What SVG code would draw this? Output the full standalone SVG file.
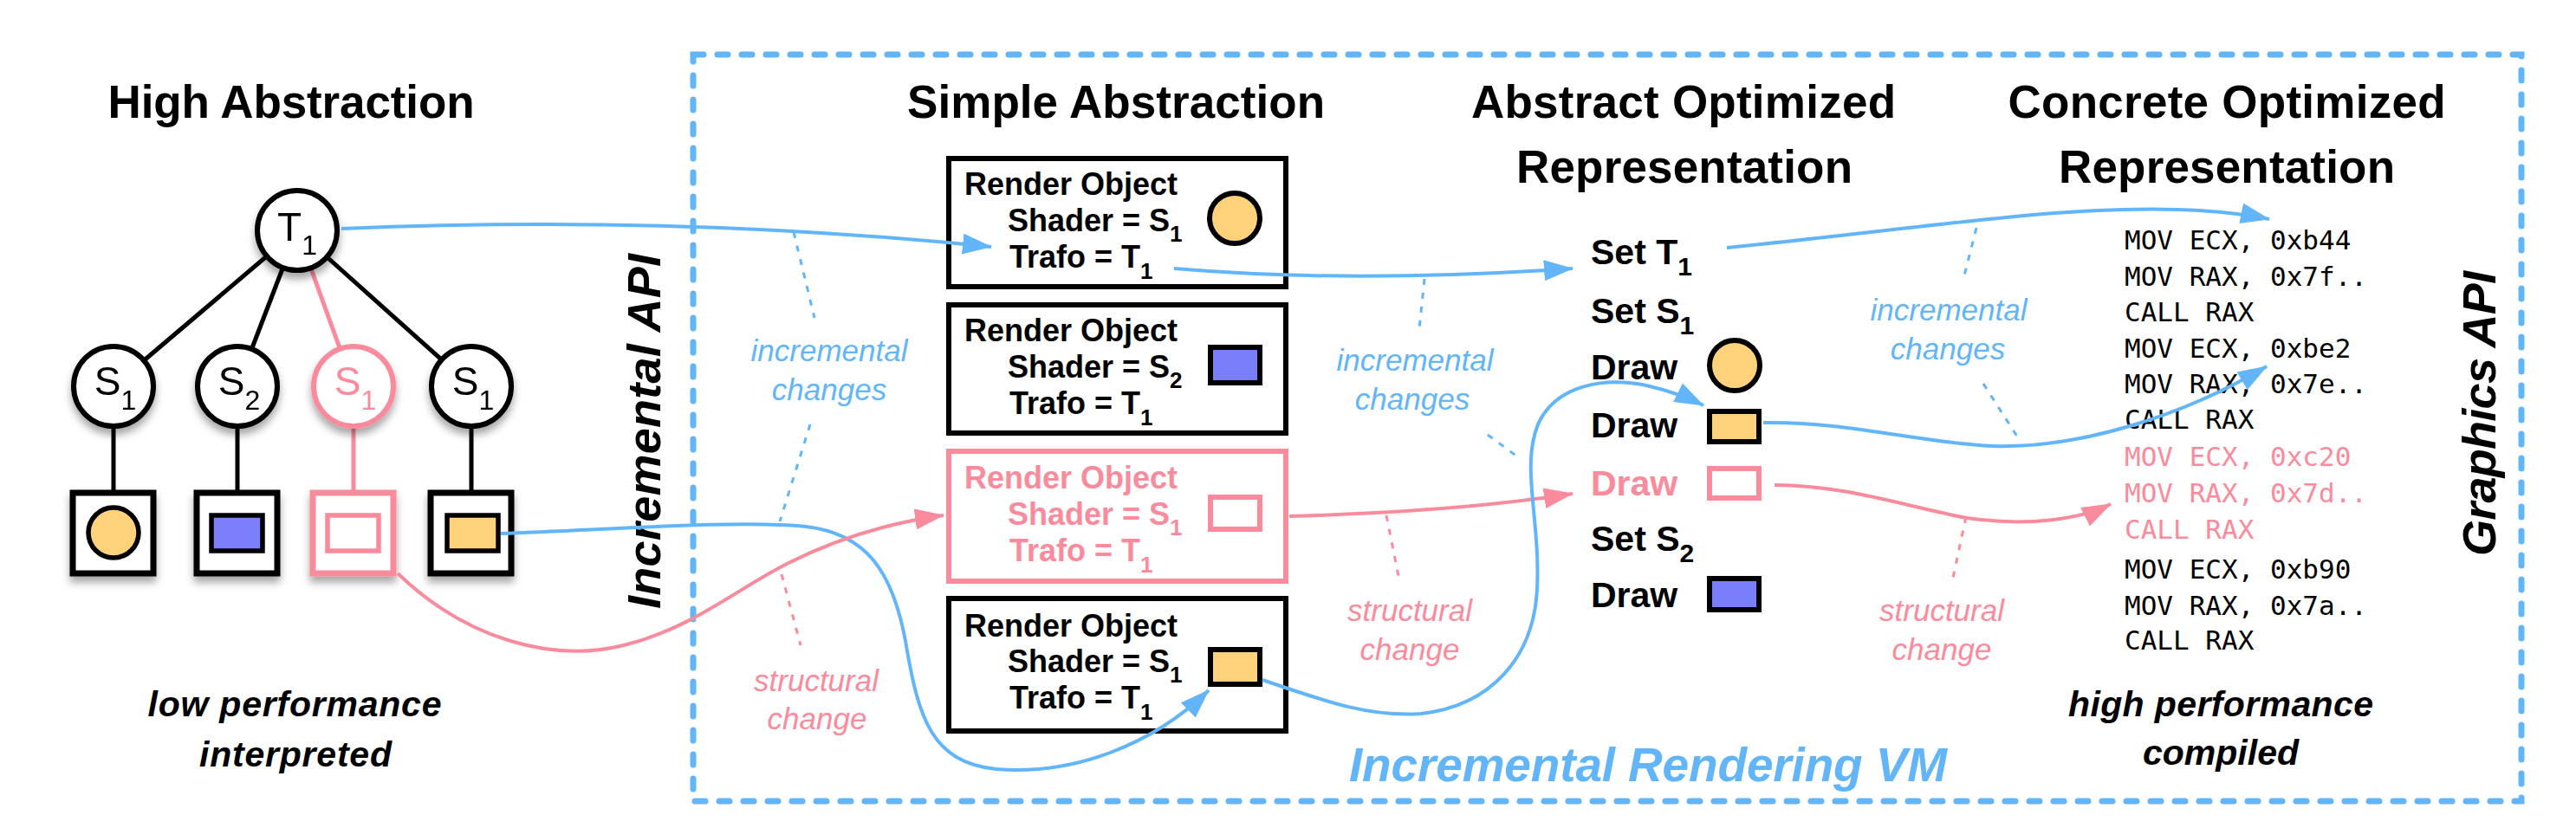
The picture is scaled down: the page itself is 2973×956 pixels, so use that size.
<svg xmlns="http://www.w3.org/2000/svg" width="2973" height="956" viewBox="0 0 2973 956">
<style>
.bg{fill:#ffffff}
.h{font-family:"Liberation Sans",Arial,sans-serif;font-weight:bold;font-size:53px;fill:#000;text-anchor:middle}
.node{fill:#fff;stroke:#000;stroke-width:6}
.pnode{fill:#fff;stroke:#FA8B9C;stroke-width:6}
.ntxt{font-family:"Liberation Sans",Arial,sans-serif;font-size:46px;fill:#000;text-anchor:middle}
.pn{fill:#FA8B9C}
.edge{stroke:#000;stroke-width:5;fill:none}
.pedge{stroke:#FA8B9C;stroke-width:5;fill:none}
.sq{fill:#fff;stroke:#000;stroke-width:7}
.psq{fill:#fff;stroke:#FA8B9C;stroke-width:7}
.yel{fill:#FDD27A;stroke:#000;stroke-width:5.5}
.blu{fill:#7B7EFA;stroke:#000;stroke-width:5.5}
.pin{fill:#fff;stroke:#FA8B9C;stroke-width:5.5}
.box{fill:#fff;stroke:#000;stroke-width:6}
.pbox{fill:#fff;stroke:#FA8B9C;stroke-width:6}
.bt{font-family:"Liberation Sans",Arial,sans-serif;font-weight:bold;font-size:36px;fill:#000}
.pbt{font-family:"Liberation Sans",Arial,sans-serif;font-weight:bold;font-size:36px;fill:#FA8B9C}
.lt{font-family:"Liberation Sans",Arial,sans-serif;font-weight:bold;font-size:41px;fill:#000}
.plt{font-family:"Liberation Sans",Arial,sans-serif;font-weight:bold;font-size:41px;fill:#FA8B9C}
.code{font-family:"DejaVu Sans Mono","Liberation Mono",monospace;font-size:31px;fill:#000}
.pcode{font-family:"DejaVu Sans Mono","Liberation Mono",monospace;font-size:31px;fill:#FA8B9C}
.bi{font-family:"Liberation Sans",Arial,sans-serif;font-weight:bold;font-style:italic;font-size:41px;fill:#000;text-anchor:middle}
.side{font-family:"Liberation Sans",Arial,sans-serif;font-weight:bold;font-style:italic;font-size:54px;fill:#000}
.vm{font-family:"Liberation Sans",Arial,sans-serif;font-weight:bold;font-style:italic;font-size:55px;fill:#62B5F9}
.ilab{font-family:"Liberation Sans",Arial,sans-serif;font-style:italic;font-size:35px;fill:#62B5F9;text-anchor:middle}
.slab{font-family:"Liberation Sans",Arial,sans-serif;font-style:italic;font-size:35px;fill:#FA8B9C;text-anchor:middle}
.bl{stroke:#62B5F9;stroke-width:4;fill:none}
.pl{stroke:#FA8B9C;stroke-width:4;fill:none}
.bdot{stroke:#62B5F9;stroke-width:3;stroke-dasharray:7 9;fill:none}
.pdot{stroke:#FA8B9C;stroke-width:3;stroke-dasharray:7 9;fill:none}
.frame{fill:none;stroke:#62B5F9;stroke-width:7;stroke-dasharray:12 16;stroke-linecap:round}
</style>
<defs>
<filter id="sh" x="-30%" y="-30%" width="160%" height="170%">
<feDropShadow dx="0" dy="7" stdDeviation="5" flood-color="#000" flood-opacity="0.35"/>
</filter>
<marker id="ab" markerUnits="userSpaceOnUse" viewBox="0 0 34 24" refX="33" refY="12" markerWidth="34" markerHeight="24" orient="auto">
<path d="M0,0 L34,12 L0,24 z" fill="#62B5F9"/>
</marker>
<marker id="ap" markerUnits="userSpaceOnUse" viewBox="0 0 34 24" refX="33" refY="12" markerWidth="34" markerHeight="24" orient="auto">
<path d="M0,0 L34,12 L0,24 z" fill="#FA8B9C"/>
</marker>
</defs>
<rect class="bg" x="0" y="0" width="2973" height="956"/>

<!-- frame -->
<rect id="vm-frame" class="frame" x="800" y="63" width="2110" height="862"/>

<!-- headings -->
<text class="h" x="336" y="136" textLength="423">High Abstraction</text>
<text class="h" x="1288" y="136" textLength="482">Simple Abstraction</text>
<text class="h" x="1943" y="136" textLength="490">Abstract Optimized</text>
<text class="h" x="1944" y="211" textLength="388">Representation</text>
<text class="h" x="2570" y="136" textLength="505">Concrete Optimized</text>
<text class="h" x="2570" y="211" textLength="388">Representation</text>

<!-- tree edges -->
<g id="tree-edges">
<line class="edge" x1="343" y1="266" x2="131" y2="446"/>
<line class="edge" x1="343" y1="266" x2="274" y2="446"/>
<line class="pedge" x1="343" y1="266" x2="408" y2="446"/>
<line class="edge" x1="343" y1="266" x2="544" y2="446"/>
<line class="edge" x1="131" y1="446" x2="131" y2="570"/>
<line class="edge" x1="274" y1="446" x2="274" y2="570"/>
<line class="pedge" x1="408" y1="446" x2="408" y2="570"/>
<line class="edge" x1="544" y1="446" x2="544" y2="570"/>
</g>

<!-- tree nodes -->
<g id="t1" filter="url(#sh)">
<circle class="node" cx="343" cy="266" r="46"/>
<text class="ntxt" x="343" y="278">T<tspan font-size="32" dy="16">1</tspan></text>
</g>
<g id="s1a" filter="url(#sh)">
<circle class="node" cx="131" cy="446" r="46"/>
<text class="ntxt" x="133" y="456">S<tspan font-size="32" dy="17">1</tspan></text>
</g>
<g id="s2" filter="url(#sh)">
<circle class="node" cx="274" cy="446" r="46"/>
<text class="ntxt" x="276" y="456">S<tspan font-size="32" dy="17">2</tspan></text>
</g>
<g id="s1b" filter="url(#sh)">
<circle class="pnode" cx="408" cy="446" r="46"/>
<text class="ntxt pn" x="410" y="456">S<tspan font-size="32" dy="17">1</tspan></text>
</g>
<g id="s1c" filter="url(#sh)">
<circle class="node" cx="544" cy="446" r="46"/>
<text class="ntxt" x="546" y="456">S<tspan font-size="32" dy="17">1</tspan></text>
</g>
<g id="leaf1" filter="url(#sh)">
<rect class="sq" x="84" y="569" width="93" height="93"/>
<circle class="yel" cx="131" cy="615" r="29"/>
</g>
<g id="leaf2" filter="url(#sh)">
<rect class="sq" x="227" y="569" width="93" height="93"/>
<rect class="blu" x="244" y="595" width="59" height="41"/>
</g>
<g id="leaf3" filter="url(#sh)">
<rect class="psq" x="361" y="569" width="93" height="93"/>
<rect class="pin" x="378" y="595" width="59" height="41"/>
</g>
<g id="leaf4" filter="url(#sh)">
<rect class="sq" x="497" y="569" width="93" height="93"/>
<rect class="yel" x="516" y="595" width="59" height="41"/>
</g>

<text class="bi" x="340" y="827" textLength="339">low performance</text>
<text class="bi" x="341" y="885" textLength="222">interpreted</text>

<!-- render objects -->
<g id="ro1">
<rect class="box" x="1095" y="183" width="389" height="148"/>
<text class="bt" x="1113" y="225">Render Object</text>
<text class="bt" x="1163" y="267">Shader = S<tspan font-size="26" dy="12">1</tspan></text>
<text class="bt" x="1165" y="309">Trafo = T<tspan font-size="26" dy="13">1</tspan></text>
<circle cx="1425" cy="252" r="29" fill="#FDD27A" stroke="#000" stroke-width="6"/>
</g>
<g id="ro2">
<rect class="box" x="1095" y="352" width="389" height="148"/>
<text class="bt" x="1113" y="394">Render Object</text>
<text class="bt" x="1163" y="436">Shader = S<tspan font-size="26" dy="12">2</tspan></text>
<text class="bt" x="1165" y="478">Trafo = T<tspan font-size="26" dy="13">1</tspan></text>
<rect x="1397" y="401" width="57" height="41" fill="#7B7EFA" stroke="#000" stroke-width="6"/>
</g>
<g id="ro3">
<rect class="pbox" x="1095" y="521" width="389" height="150"/>
<text class="pbt" x="1113" y="564">Render Object</text>
<text class="pbt" x="1163" y="606">Shader = S<tspan font-size="26" dy="12">1</tspan></text>
<text class="pbt" x="1165" y="648">Trafo = T<tspan font-size="26" dy="13">1</tspan></text>
<rect x="1397" y="574" width="57" height="37" fill="#fff" stroke="#FA8B9C" stroke-width="6"/>
</g>
<g id="ro4">
<rect class="box" x="1095" y="691" width="389" height="153"/>
<text class="bt" x="1113" y="735">Render Object</text>
<text class="bt" x="1163" y="776">Shader = S<tspan font-size="26" dy="12">1</tspan></text>
<text class="bt" x="1165" y="818">Trafo = T<tspan font-size="26" dy="13">1</tspan></text>
<rect x="1397" y="750" width="57" height="40" fill="#FDD27A" stroke="#000" stroke-width="6"/>
</g>

<!-- abstract optimized list -->
<g id="aol">
<text class="lt" x="1836" y="305">Set T<tspan font-size="30" dy="13">1</tspan></text>
<text class="lt" x="1836" y="373">Set S<tspan font-size="30" dy="13">1</tspan></text>
<text class="lt" x="1836" y="438">Draw</text>
<circle cx="2002" cy="422" r="29" fill="#FDD27A" stroke="#000" stroke-width="6"/>
<text class="lt" x="1836" y="505">Draw</text>
<rect x="1973" y="475" width="57" height="35" fill="#FDD27A" stroke="#000" stroke-width="6"/>
<text class="plt" x="1836" y="572">Draw</text>
<rect x="1973" y="541" width="57" height="34" fill="#fff" stroke="#FA8B9C" stroke-width="6"/>
<text class="lt" x="1836" y="636">Set S<tspan font-size="30" dy="13">2</tspan></text>
<text class="lt" x="1836" y="701">Draw</text>
<rect x="1973" y="668" width="57" height="36" fill="#7B7EFA" stroke="#000" stroke-width="6"/>
</g>

<!-- concrete code -->
<g id="code">
<text class="code" x="2452" y="288">MOV ECX, 0xb44</text>
<text class="code" x="2452" y="330">MOV RAX, 0x7f..</text>
<text class="code" x="2452" y="371">CALL RAX</text>
<text class="code" x="2452" y="413">MOV ECX, 0xbe2</text>
<text class="code" x="2452" y="454">MOV RAX, 0x7e..</text>
<text class="code" x="2452" y="495">CALL RAX</text>
<text class="pcode" x="2452" y="538">MOV ECX, 0xc20</text>
<text class="pcode" x="2452" y="580">MOV RAX, 0x7d..</text>
<text class="pcode" x="2452" y="622">CALL RAX</text>
<text class="code" x="2452" y="668">MOV ECX, 0xb90</text>
<text class="code" x="2452" y="710">MOV RAX, 0x7a..</text>
<text class="code" x="2452" y="750">CALL RAX</text>
</g>

<text class="bi" x="2563" y="827" textLength="352">high performance</text>
<text class="bi" x="2563" y="883" textLength="180">compiled</text>

<!-- side labels -->
<text class="side" transform="translate(762,703) rotate(-90)" textLength="410">Incremental API</text>
<text class="side" transform="translate(2880,642) rotate(-90)" textLength="329">Graphics API</text>
<text class="vm" x="1557" y="902" textLength="690">Incremental Rendering VM</text>

<!-- annotation labels -->
<g id="labels">
<text class="ilab" x="957" y="417">incremental</text>
<text class="ilab" x="957" y="462">changes</text>
<text class="slab" x="942" y="798">structural</text>
<text class="slab" x="943" y="842">change</text>
<text class="ilab" x="1633" y="428">incremental</text>
<text class="ilab" x="1630" y="473">changes</text>
<text class="slab" x="1627" y="717">structural</text>
<text class="slab" x="1627" y="762">change</text>
<text class="ilab" x="2249" y="370">incremental</text>
<text class="ilab" x="2248" y="415">changes</text>
<text class="slab" x="2241" y="717">structural</text>
<text class="slab" x="2241" y="762">change</text>
</g>

<!-- connectors -->
<g id="connectors">
<line class="bdot" x1="916" y1="268" x2="940" y2="367"/>
<line class="bdot" x1="935" y1="490" x2="900" y2="602"/>
<line class="pdot" x1="902" y1="663" x2="924" y2="745"/>
<line class="bdot" x1="1644" y1="322" x2="1638" y2="380"/>
<line class="bdot" x1="1717" y1="502" x2="1755" y2="530"/>
<line class="pdot" x1="1600" y1="595" x2="1614" y2="665"/>
<line class="bdot" x1="2281" y1="263" x2="2266" y2="322"/>
<line class="bdot" x1="2289" y1="443" x2="2330" y2="507"/>
<line class="pdot" x1="2269" y1="597" x2="2254" y2="667"/>

<path class="bl" marker-end="url(#ab)" d="M394 264 C600 255, 850 255, 1144 285"/>
<path class="bl" marker-end="url(#ab)" d="M1355 310 C1450 318, 1600 325, 1815 310"/>
<path class="bl" marker-end="url(#ab)" d="M1993 286 C2200 265, 2330 245, 2450 242 C2530 240, 2580 245, 2619 253"/>
<path class="bl" marker-end="url(#ab)" d="M578 616 C700 612, 850 600, 930 608 C1000 616, 1030 660, 1045 740 C1060 830, 1075 880, 1150 888 C1240 895, 1330 860, 1395 797"/>
<path class="pl" marker-end="url(#ap)" d="M459 662 C540 740, 640 765, 720 745 C800 725, 850 680, 910 650 C970 620, 1030 603, 1089 595"/>
<path class="pl" marker-end="url(#ap)" d="M1488 596 C1600 593, 1720 585, 1815 570"/>
<path class="bl" marker-end="url(#ab)" d="M1457 785 C1530 810, 1580 828, 1640 824 C1720 815, 1770 760, 1774 680 C1778 600, 1755 540, 1775 490 C1795 445, 1850 435, 1900 445 C1930 452, 1950 460, 1966 468"/>
<path class="bl" marker-end="url(#ab)" d="M2035 488 C2130 486, 2220 512, 2300 515 C2400 518, 2520 480, 2616 423"/>
<path class="pl" marker-end="url(#ap)" d="M2048 560 C2130 560, 2200 585, 2270 598 C2340 608, 2400 600, 2436 582"/>
</g>
</svg>
